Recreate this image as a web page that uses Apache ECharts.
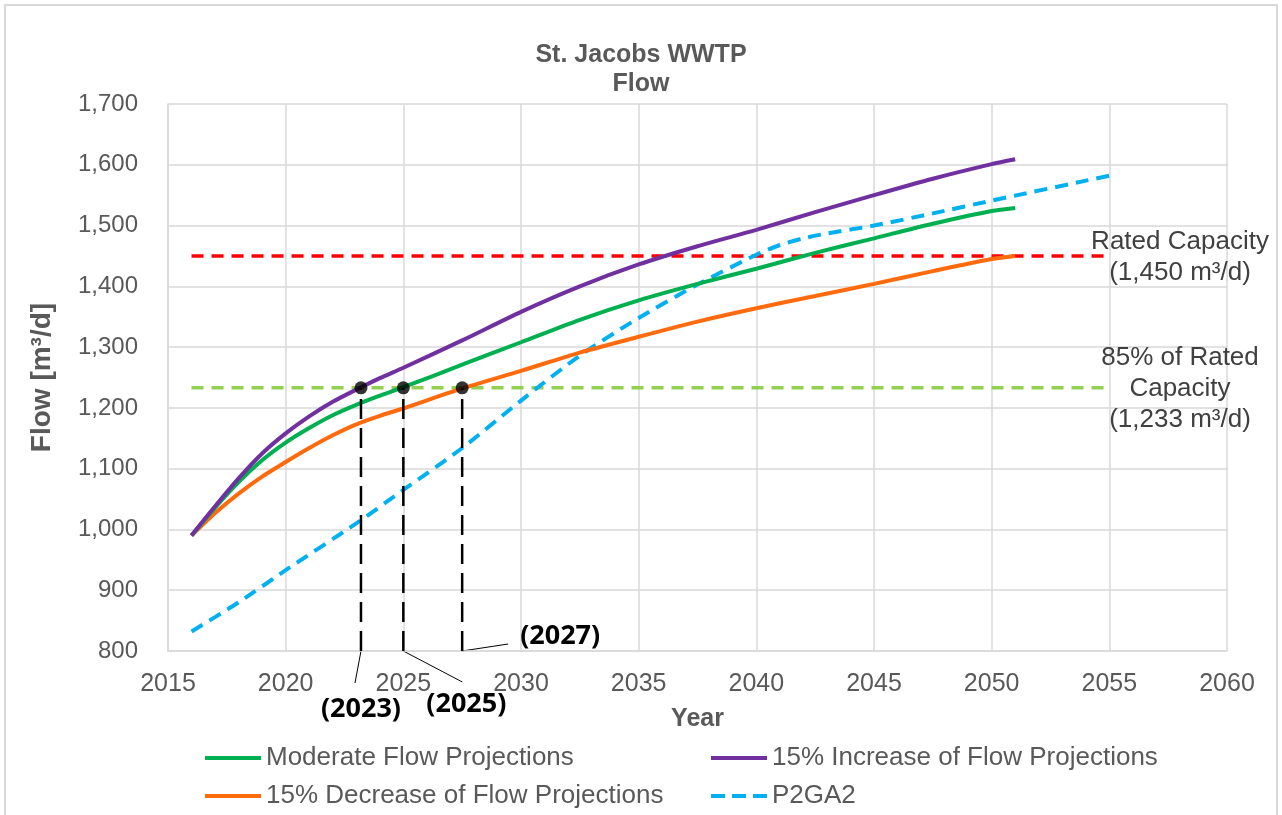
<!DOCTYPE html>
<html>
<head>
<meta charset="utf-8">
<script src="https://cdn.jsdelivr.net/npm/echarts@6/dist/echarts.min.js"></script>
<style>
  html, body { margin: 0; padding: 0; background: #fff; }
  #chart { width: 1282px; height: 815px; }
</style>
</head>
<body>
<div id="chart"></div>
<script>
"use strict";

const FONT = "Liberation Sans, Arial, sans-serif";

// ---------- data ----------
const moderate = [
  [2016, 990], [2017, 1036], [2018, 1078], [2019, 1114], [2020, 1143], [2021, 1167],
  [2022, 1188], [2023, 1205], [2024, 1220], [2025, 1234], [2027.5, 1271], [2030, 1308],
  [2032.5, 1345], [2035, 1377], [2037.5, 1404], [2040, 1429], [2042.5, 1455], [2045, 1479],
  [2047.5, 1503], [2050, 1524], [2051, 1529],
];
const increase15 = [
  [2016, 990], [2017, 1038], [2018, 1084], [2019, 1125], [2020, 1158], [2021, 1186],
  [2022, 1210], [2023, 1230], [2024, 1249], [2025, 1266], [2027.5, 1311], [2030, 1358],
  [2032.5, 1400], [2035, 1436], [2037.5, 1466], [2040, 1493], [2042.5, 1522], [2045, 1550],
  [2047.5, 1577], [2050, 1601], [2051, 1609],
];
const decrease15 = [
  [2016, 990], [2017, 1027], [2018, 1059], [2019, 1087], [2020, 1111], [2021, 1134],
  [2022, 1155], [2023, 1173], [2024, 1187], [2025, 1199], [2027.5, 1232], [2030, 1261],
  [2032.5, 1291], [2035, 1317], [2037.5, 1342], [2040, 1364], [2042.5, 1384], [2045, 1404],
  [2047.5, 1425], [2050, 1445], [2051, 1450],
];
const p2ga2 = [
  [2016, 832], [2018, 880], [2020, 933], [2023, 1010], [2025, 1065], [2027.5, 1134],
  [2030, 1212], [2032.5, 1286], [2035, 1348], [2037.5, 1403], [2040, 1452], [2041, 1468],
  [2042, 1479], [2043, 1487], [2045, 1500], [2047.5, 1520], [2050, 1541], [2055, 1582],
];
const ratedCapacity = [[2016, 1450], [2055, 1450]];
const rated85 = [[2016, 1233], [2055, 1233]];

// years where each projection reaches 85 % of rated capacity
const crossYears = [2023.2, 2025, 2027.5];
const crossLabels = ["(2023)", "(2025)", "(2027)"];
const crossValue = 1233;
const axisMin = 800;

const names = [
  "Moderate Flow Projections",
  "15% Increase of Flow Projections",
  "15% Decrease of Flow Projections",
  "P2GA2",
];

// ---------- chart ----------
const chart = echarts.init(document.getElementById("chart"));

const curve = (name, data, color, dashed) => ({
  name, type: "line", data, smooth: 0.25, showSymbol: false, symbol: "none",
  lineStyle: { color, width: 4, type: dashed ? [13, 8] : "solid", cap: "butt" },
  itemStyle: { color }, z: 3,
});

const refLine = (data, color) => ({
  type: "line", data, showSymbol: false, symbol: "none", silent: true,
  lineStyle: { color, width: 3.5, type: [12, 8] }, z: 2,
});

const dropLines = crossYears.map((yr) => ({
  type: "line", data: [[yr, axisMin], [yr, crossValue]], showSymbol: false, symbol: "none",
  silent: true, lineStyle: { color: "#000", width: 2.5, type: [20, 9] }, z: 4,
}));

const legendText = { color: "#595959", fontSize: 26, fontFamily: FONT };
const solidIcon = "path://M0,0H56V4H0Z";
const dashIcon = "path://M0,0H14V4H0Z M21,0H35V4H21Z M42,0H56V4H42Z";
const legendBase = {
  orient: "vertical", top: 740, height: 120, itemWidth: 56, itemHeight: 4, itemGap: 12,
  textStyle: legendText, selectedMode: false,
};

chart.setOption({
  animation: false,
  backgroundColor: "#fff",
  title: {
    text: "St. Jacobs WWTP\nFlow",
    left: "center", top: 36,
    textStyle: { color: "#595959", fontSize: 25, fontWeight: "bold", fontFamily: FONT, lineHeight: 29 },
  },
  legend: [
    Object.assign({ left: 200, data: [{ name: names[0], icon: solidIcon }, { name: names[2], icon: solidIcon }] }, legendBase),
    Object.assign({ left: 706, data: [{ name: names[1], icon: solidIcon }, { name: names[3], icon: dashIcon }] }, legendBase),
  ],
  grid: { left: 168, right: 55, top: 104, bottom: 164 },
  xAxis: {
    type: "value", min: 2015, max: 2060, interval: 5,
    name: "Year", nameLocation: "middle", nameGap: 56,
    nameTextStyle: { color: "#595959", fontSize: 25, fontWeight: "bold", fontFamily: FONT },
    axisLine: { lineStyle: { color: "#D9D9D9", width: 1.5 } },
    axisTick: { show: false },
    axisLabel: { color: "#595959", fontSize: 25, fontFamily: FONT, margin: 21, formatter: (v) => String(v) },
    splitLine: { lineStyle: { color: "#D9D9D9", width: 1.5 } },
  },
  yAxis: {
    type: "value", min: axisMin, max: 1700, interval: 100,
    name: "Flow [m³/d]", nameLocation: "middle", nameGap: 112, nameRotate: 90,
    nameTextStyle: { color: "#595959", fontSize: 28, fontWeight: "bold", fontFamily: FONT },
    axisLine: { show: true, lineStyle: { color: "#D9D9D9", width: 1.5 } },
    axisTick: { show: false },
    axisLabel: { color: "#595959", fontSize: 24, fontFamily: FONT, margin: 30 },
    splitLine: { lineStyle: { color: "#D9D9D9", width: 1.5 } },
  },
  series: [
    refLine(ratedCapacity, "#FF0000"),
    refLine(rated85, "#92D050"),
    curve(names[3], p2ga2, "#00B0F0", true),
    curve(names[2], decrease15, "#FF6A0D"),
    curve(names[0], moderate, "#00B050"),
    curve(names[1], increase15, "#7030A0"),
    ...dropLines,
    {
      type: "scatter", data: crossYears.map((yr) => [yr, crossValue]), symbolSize: 13,
      itemStyle: { color: "#000" }, silent: true, z: 6,
    },
  ],
});

// ---------- annotations ----------
// leader line offsets (px) from foot of each drop line, and label centre offsets
const leaderEnd = [[-6, 32], [59, 31], [46, -7]];
const labelAt = [[0, 58], [63, 53], [98, -15]];

const graphics = [
  { type: "rect", shape: { x: 5, y: 5, width: 1272, height: 820 }, style: { fill: "none", stroke: "#D9D9D9", lineWidth: 2 }, silent: true },
];
crossYears.forEach((yr, i) => {
  const [px, py] = chart.convertToPixel({ gridIndex: 0 }, [yr, axisMin]);
  graphics.push({
    type: "line", silent: true,
    shape: { x1: px, y1: py, x2: px + leaderEnd[i][0], y2: py + leaderEnd[i][1] },
    style: { stroke: "#000", lineWidth: 1 },
  });
  graphics.push({
    type: "text", silent: true, x: px + labelAt[i][0], y: py + labelAt[i][1],
    style: { text: crossLabels[i], fill: "#000", font: "bold 27px 'Open Sans', sans-serif", align: "center", verticalAlign: "middle" },
  });
});

const rightX = 1180;
const capY = chart.convertToPixel({ gridIndex: 0 }, [2055, 1450])[1];
const capY85 = chart.convertToPixel({ gridIndex: 0 }, [2055, 1233])[1];
const annoStyle = (t) => ({ text: t, fill: "#404040", font: "26px " + FONT, align: "center", verticalAlign: "middle", lineHeight: 31 });
graphics.push({ type: "text", silent: true, x: rightX, y: capY + 1, style: annoStyle("Rated Capacity\n(1,450 m³/d)") });
graphics.push({ type: "text", silent: true, x: rightX, y: capY85 + 1, style: annoStyle("85% of Rated\nCapacity\n(1,233 m³/d)") });

chart.setOption({ graphic: graphics });
</script>
</body>
</html>
